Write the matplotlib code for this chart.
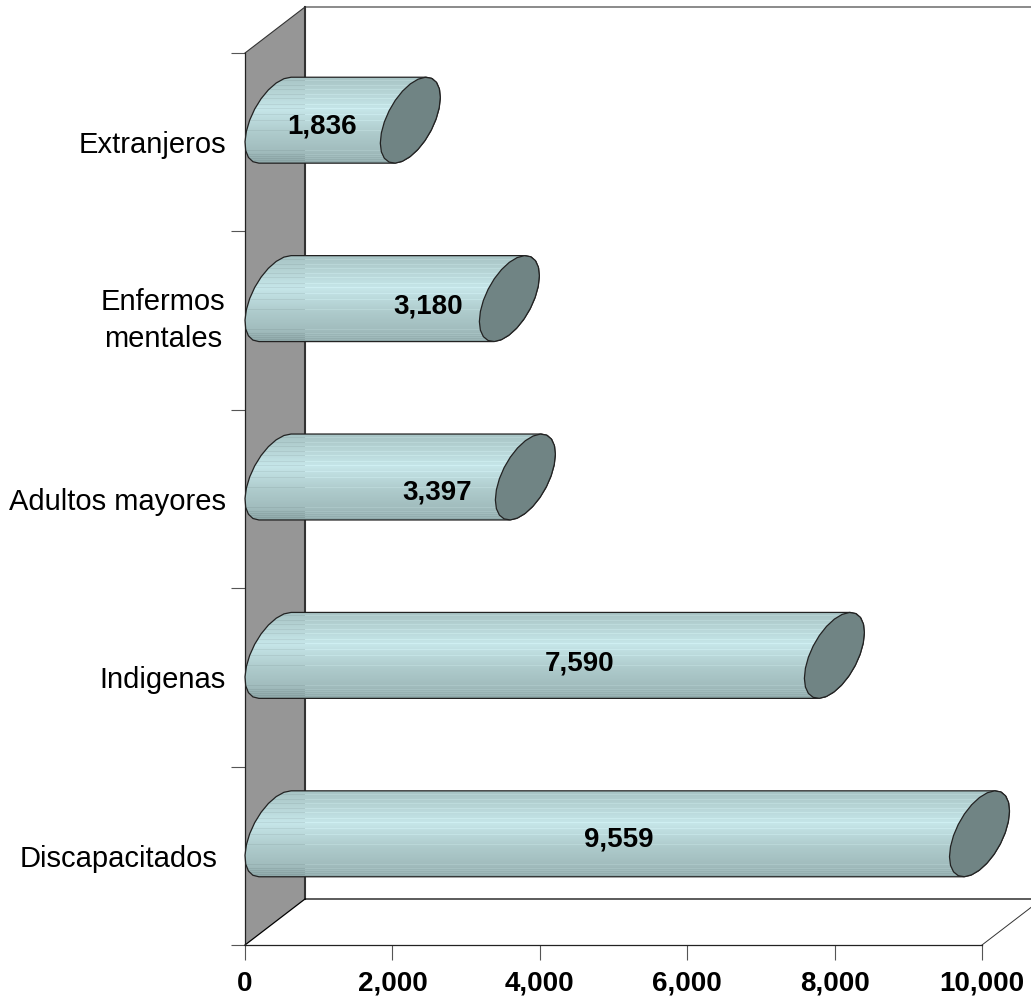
"""
3D looking horizontal cylinder chart, drawn with a sheared projection by hand
"""
import numpy as np
from matplotlib import pyplot as plt
from matplotlib.patches import PathPatch, Polygon
from matplotlib.path import Path
from matplotlib.colors import LinearSegmentedColormap

CATEGORIES: list = ["Discapacitados", "Indigenas", "Adultos mayores", "Enfermos\nmentales", "Extranjeros"]
VALUES: list = [9559, 7590, 3397, 3180, 1836]
VALUE_LABELS: list = ["9,559", "7,590", "3,397", "3,180", "1,836"]
X_TICKS: list = [0, 2000, 4000, 6000, 8000, 10000]
X_TICK_LABELS: list = ["0", "2,000", "4,000", "6,000", "8,000", "10,000"]

# layout, in pixels of the 1031x997 picture
W, H = 1031, 997
PX_X0, PX_X1 = 245, 982      # value 0 and 10000 on the front plane
PX_Y0, PX_Y1 = 945, 53       # bottom and top of the front plane
LABEL_PX: list = [(619, 839), (580, 663), (437, 492), (428, 307), (322, 126)]
CAT_PAD_PX: list = [27, 19, 19, 20, 19]

PER_PX_X = 10000 / (PX_X1 - PX_X0)
PER_PX_Y = 5 / (PX_Y0 - PX_Y1)
DEPTH_X = 60 * PER_PX_X
DEPTH_Y = 46 * PER_PX_Y
BAR_H = 72.6 * PER_PX_Y
BAR_SHIFT = -1 * PER_PX_Y

BAR_CMAP = LinearSegmentedColormap.from_list(
    "bar", [(0, "#8fa9aa"), (0.12, "#a0bbbc"), (0.35, "#aecbcc"), (0.63, "#c6e6e9"),
            (0.85, "#b4d2d3"), (1, "#a8c4c5")])
STRIPE_ROWS: list = [3, 8, 12, 17, 21, 27, 31, 37, 43, 53, 73, 77, 79, 81, 83]

plt.rcParams["font.family"] = ["Liberation Sans", "DejaVu Sans"]


def add_cylinder(ax, i, value):
    """Draws one cylinder, its gradient clipped to the outline, and the end cap"""
    cy = i + DEPTH_Y / 2 + BAR_SHIFT
    t_top = np.arctan2(BAR_H / 2, DEPTH_Y / 2)
    t_left = np.linspace(t_top, t_top + np.pi, 13)
    t_right = np.linspace(t_top + np.pi, t_top + 2 * np.pi, 13)

    def ellipse(x0, t):
        return np.column_stack([x0 + DEPTH_X / 2 * (1 + np.cos(t)),
                                cy + DEPTH_Y / 2 * np.cos(t) + BAR_H / 2 * np.sin(t)])

    outline = np.vstack([ellipse(0, t_left), ellipse(value, t_right)])
    patch = PathPatch(Path(np.vstack([outline, outline[:1]]), closed=True),
                      facecolor="none", edgecolor="#222222", linewidth=0.9, zorder=4)
    ax.add_patch(patch)

    # horizontal bands; the stripes are dark over the wall and light past it
    y_low = outline[:, 1].min()
    y_high = outline[:, 1].max()
    base = BAR_CMAP(np.linspace(1, 0, 86))
    over_wall = base.copy()
    over_wall[STRIPE_ROWS, :3] *= 0.94
    past_wall = base.copy()
    past_wall[STRIPE_ROWS, :3] = np.minimum(past_wall[STRIPE_ROWS, :3] + 0.04, 1)
    for grad, x_from, x_to in [(over_wall, 0, DEPTH_X), (past_wall, DEPTH_X, value + DEPTH_X)]:
        img = ax.imshow(grad[:, None, :], extent=(x_from, x_to, y_low, y_high),
                        aspect="auto", interpolation="nearest", zorder=3)
        img.set_clip_path(patch)

    cap = Polygon(ellipse(value, np.linspace(0, 2 * np.pi, 25)), closed=True,
                  facecolor="#708484", edgecolor="#222222", linewidth=0.9, zorder=5)
    ax.add_patch(cap)


fig = plt.figure(figsize=(W / 100, H / 100), dpi=100)
ax = fig.add_axes([0, 0, 1, 1])
ax.patch.set_alpha(0)

x_min = -PX_X0 * PER_PX_X
x_max = (W - PX_X0) * PER_PX_X
y_min = -0.5 - (H - PX_Y0) * PER_PX_Y
y_max = 4.5 + PX_Y1 * PER_PX_Y

# side wall and the back and floor lines
ax.add_patch(Polygon([(0, -0.5), (DEPTH_X, -0.5 + DEPTH_Y), (DEPTH_X, 4.5 + DEPTH_Y), (0, 4.5)],
                     closed=True, facecolor="#969696", edgecolor="none", zorder=1))
ax.plot([DEPTH_X, DEPTH_X], [-0.5 + DEPTH_Y, 4.5 + DEPTH_Y], color="#333333", lw=1.5, zorder=2)
ax.plot([0, DEPTH_X, x_max], [4.5, 4.5 + DEPTH_Y, 4.5 + DEPTH_Y], color="#333333", lw=0.8, zorder=2)
ax.plot([0, DEPTH_X, x_max], [-0.5, -0.5 + DEPTH_Y, -0.5 + DEPTH_Y], color="black", lw=0.9, zorder=2)
ax.plot([10000, 10000 + DEPTH_X], [-0.5, -0.5 + DEPTH_Y], color="#333333", lw=0.7, zorder=2)

for i, value in enumerate(VALUES):
    add_cylinder(ax, i, value)

for (px, py), label in zip(LABEL_PX, VALUE_LABELS):
    fig.text(px / W, 1 - py / H, label, fontsize=20, fontweight="bold",
             ha="center", va="center", zorder=10)

# Axes
ax.set_xlim(x_min, x_max)
ax.set_ylim(y_min, y_max)
for side in ["top", "right"]:
    ax.spines[side].set_visible(False)
ax.spines["bottom"].set_position(("data", -0.5))
ax.spines["bottom"].set_bounds(0, 10000)
ax.spines["left"].set_position(("data", 0))
ax.spines["left"].set_bounds(-0.5, 4.5)
for side in ["bottom", "left"]:
    ax.spines[side].set_linewidth(0.9)
    ax.spines[side].set_color("#222222")

ax.set_xticks(X_TICKS, X_TICK_LABELS, fontsize=20, fontweight="bold")
ax.tick_params(axis="x", length=10.5, width=0.8, color="#555555", pad=8)
ax.set_yticks(np.arange(-0.5, 5, 1))
ax.set_yticklabels([])
ax.tick_params(axis="y", which="major", length=10, width=0.8, color="#555555")
ax.set_yticks(range(len(CATEGORIES)), CATEGORIES, minor=True, fontsize=21)
ax.tick_params(axis="y", which="minor", length=0)
for tick, pad in zip(ax.yaxis.get_minor_ticks(), CAT_PAD_PX):
    tick.set_pad(pad * 0.72)
    tick.label1.set_multialignment("center")
    tick.label1.set_linespacing(1.38)
    if "\n" in tick.label1.get_text():
        tick.label1.set_verticalalignment("center")

plt.savefig("out.png", dpi=100)
